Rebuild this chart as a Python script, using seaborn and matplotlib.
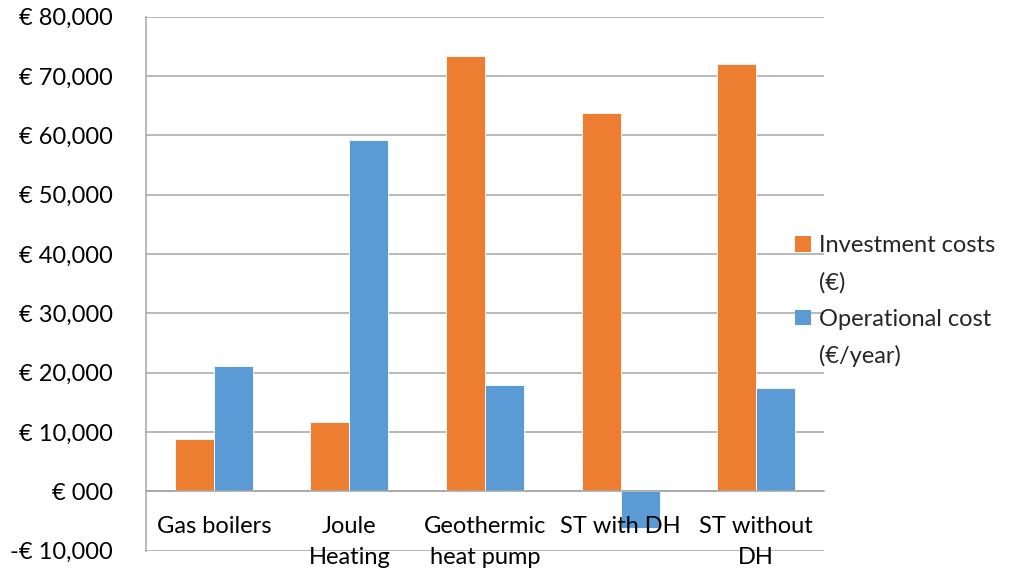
import matplotlib
matplotlib.use("Agg")
import matplotlib.pyplot as plt
import matplotlib.ticker as mticker
from matplotlib.patches import Patch
import seaborn as sns
import pandas as pd

# Heating system alternatives and their costs
systems = ["Gas boilers", "Joule\nHeating", "Geothermic\nheat pump", "ST with DH", "ST without\nDH"]
investment = [8900, 11700, 73400, 63850, 72000]
operational = [21200, 59300, 17900, -6100, 17400]
series_names = ["Investment costs (€)", "Operational cost (€/year)"]
legend_lines = [["Investment costs", "(€)"], ["Operational cost", "(€/year)"]]
y_ticks = list(range(-10000, 80001, 10000))

orange = "#ED7D31"
blue = "#5B9BD5"
grid_grey = "#A6A6A6"
font_size = 17

sns.set_style("white")
plt.rcParams["font.family"] = ["Lato", "DejaVu Sans"]

df = pd.DataFrame({
    "system": systems * 2,
    "cost": investment + operational,
    "series": [series_names[0]] * len(systems) + [series_names[1]] * len(systems),
})

fig = plt.figure(figsize=(10.15, 5.76), dpi=100)
ax = fig.add_axes([0.1438, 0.0439, 0.8118 - 0.1438, 0.971 - 0.0439])

sns.barplot(data=df, x="system", y="cost", hue="series", order=systems,
            hue_order=series_names, palette=[orange, blue], width=0.575,
            gap=0, saturation=1, ax=ax, legend=False, errorbar=None)
for patch in ax.patches:
    patch.set_edgecolor("#FFFFFF")
    patch.set_linewidth(0.6)
    patch.set_zorder(2)

ax.set_ylim(-10000, 80000)
ax.set_xlim(-0.5, len(systems) - 0.5)
ax.set_yticks(y_ticks)


def euro(v, pos):
    if v == 0:
        return "€ 000"
    sign = "-" if v < 0 else ""
    return f"{sign}€ {abs(v):,.0f}"


ax.yaxis.set_major_formatter(mticker.FuncFormatter(euro))
ax.yaxis.grid(True, color=grid_grey, linewidth=1.1)
ax.yaxis.set_zorder(0.5)
ax.xaxis.set_zorder(3)

# Category boundaries as major ticks, labels at the centres as minor ticks
ax.set_xticks([i - 0.5 for i in range(len(systems) + 1)])
ax.set_xticklabels([])
ax.set_xticks(range(len(systems)), minor=True)
ax.set_xticklabels(systems, minor=True)
ax.tick_params(axis="x", which="major", length=8, width=1.1, color=grid_grey, direction="out")
ax.tick_params(axis="x", which="minor", length=0, pad=18, labelsize=font_size, labelcolor="black")
ax.tick_params(axis="y", length=7, width=1.1, color=grid_grey, direction="out",
               pad=17, labelsize=font_size, labelcolor="black")
ax.set_xlabel("")
ax.set_ylabel("")

for side in ["top", "right"]:
    ax.spines[side].set_visible(False)
ax.spines["left"].set_color(grid_grey)
ax.spines["left"].set_linewidth(1.1)
ax.spines["left"].set_zorder(3)
ax.spines["bottom"].set_position(("data", 0))
ax.spines["bottom"].set_color(grid_grey)
ax.spines["bottom"].set_linewidth(1.1)

# Legend: colour square beside the first line of each wrapped label
handles, labels = [], []
for col, lines in zip([orange, blue], legend_lines):
    handles.append(Patch(facecolor=col, edgecolor="none"))
    labels.append(lines[0])
    handles.append(Patch(facecolor="none", edgecolor="none"))
    labels.append(lines[1])
fig.legend(handles, labels, loc="center left", bbox_to_anchor=(0.772, 0.477),
           frameon=False, fontsize=font_size, handlelength=0.65, handleheight=0.65,
           handletextpad=0.35, labelspacing=0.66, borderpad=0)

# Wider line spacing for the wrapped category names
fig.canvas.draw()
for tick in ax.xaxis.get_minor_ticks():
    tick.label1.set_linespacing(1.55)

fig.savefig("out.png", dpi=100)
